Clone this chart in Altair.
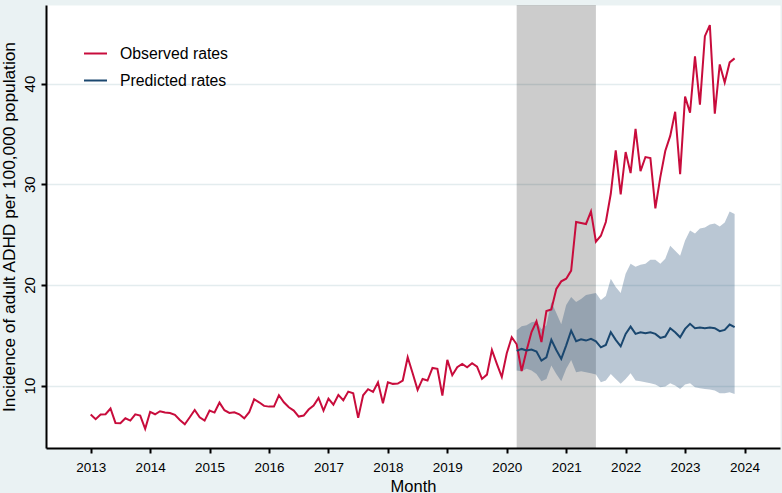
import altair as alt
import pandas as pd

# ---- data ----
obs_start_year = 2013
observed = [
    7.12, 6.66, 7.12, 7.15, 7.72, 6.29, 6.26, 6.75, 6.52, 7.15, 7.02, 5.70,
    7.38, 7.15, 7.45, 7.32, 7.28, 7.09, 6.59, 6.16, 6.85, 7.58, 6.85, 6.52,
    7.52, 7.32, 8.31, 7.55, 7.28, 7.35, 7.15, 6.75, 7.35, 8.64, 8.34, 7.98,
    7.91, 7.91, 9.04, 8.34, 7.85, 7.52, 6.92, 7.02, 7.62, 8.01, 8.77, 7.52,
    8.71, 8.11, 9.07, 8.54, 9.40, 9.24, 6.79, 9.04, 9.64, 9.37, 10.33, 8.24,
    10.33, 10.17, 10.20, 10.50, 12.81, 11.23, 9.57, 10.66, 10.50, 11.75, 11.66, 9.01,
    12.55, 11.03, 11.82, 12.15, 11.82, 12.22, 11.89, 10.66, 11.09, 13.54, 12.15, 10.85,
    13.21, 14.80, 14.10, 11.45, 13.48, 15.32, 16.39, 14.32, 17.40, 17.56, 19.60, 20.35,
    20.62, 21.42, 26.25, 26.15, 26.05, 27.30, 24.30, 24.88, 26.25, 29.05, 33.35, 29.00,
    33.20, 31.10, 35.50, 31.30, 32.70, 32.60, 27.60, 30.70, 33.30, 34.80, 37.20, 31.00,
    38.70, 37.10, 42.70, 37.90, 44.70, 45.80, 37.00, 41.90, 40.10, 42.10, 42.50,
]

pred_start = 2020 + 2 / 12  # March 2020
predicted = [
    13.45, 13.64, 13.48, 13.58, 13.38, 12.48, 12.81, 14.54, 13.54, 12.65,
    14.00, 15.46, 14.40, 14.60, 14.47, 14.64, 14.40, 13.80, 14.04, 15.30, 14.54, 13.90,
    15.13, 15.86, 15.13, 15.30, 15.20, 15.30, 15.13, 14.74, 14.87, 15.70, 15.30, 14.80,
    15.63, 16.13, 15.70, 15.76, 15.70, 15.76, 15.70, 15.40, 15.53, 16.06, 15.80,
]
ci_lower = [
    11.49, 11.42, 11.66, 11.49, 11.16, 10.43, 10.66, 11.99, 11.16, 10.43,
    11.66, 12.55, 11.32, 11.42, 11.32, 11.23, 11.09, 10.33, 10.50, 11.16, 10.66, 10.17,
    10.66, 11.23, 10.50, 10.43, 10.33, 10.23, 10.10, 9.83, 9.90, 10.23, 10.00, 9.67,
    10.10, 10.23, 9.83, 9.74, 9.67, 9.60, 9.50, 9.24, 9.24, 9.34, 9.17,
]
ci_upper = [
    15.50, 15.90, 16.00, 16.30, 16.40, 15.60, 16.00, 18.30, 17.20, 16.10,
    18.00, 18.80, 18.30, 18.60, 19.00, 19.10, 19.20, 18.50, 18.90, 20.60, 19.80, 19.20,
    21.10, 22.10, 21.80, 22.00, 22.10, 22.50, 22.50, 22.10, 22.60, 23.90, 23.40, 22.90,
    24.40, 25.40, 25.10, 25.60, 25.70, 26.00, 26.10, 25.80, 26.20, 27.30, 27.05,
]
band_start = [2020 + 2 / 12]   # March 2020
band_end = [2021 + 6 / 12]     # July 2021
x_ticks = list(range(2013, 2025))
y_ticks = [10, 20, 30, 40]
series_names = ["Observed rates", "Predicted rates"]

RED = "#C80C3C"
NAVY = "#1A476F"
FONT = "Liberation Sans"

obs_df = pd.DataFrame({
    "month": [obs_start_year + i / 12 for i in range(len(observed))],
    "value": observed,
    "series": series_names[0],
})
pred_df = pd.DataFrame({
    "month": [pred_start + i / 12 for i in range(len(predicted))],
    "value": predicted,
    "series": series_names[1],
})
lines_df = pd.concat([obs_df, pred_df], ignore_index=True)
ci_df = pd.DataFrame({
    "month": [pred_start + i / 12 for i in range(len(predicted))],
    "lo": ci_lower,
    "hi": ci_upper,
})
band_df = pd.DataFrame({"start": band_start, "end": band_end})

xscale = alt.Scale(domain=[2012.248, 2024.597], nice=False, zero=False)
yscale = alt.Scale(domain=[3.8, 47.8], nice=False, zero=False)

xaxis = alt.Axis(
    values=x_ticks, format="d", title="Month", grid=False,
    labelFontSize=13.5, labelPadding=7, titleFontSize=16.5,
    titleX=367, titleY=43, titleBaseline="alphabetic", titleAlign="center",
)
yaxis = alt.Axis(
    values=y_ticks, title="Incidence of adult ADHD per 100,000 population",
    grid=True, labelAngle=270, labelAlign="center", labelBaseline="bottom",
    labelFontSize=15, labelPadding=4, titleFontSize=17.3,
    titleAngle=270, titleX=-32, titleY=221.5, titleAlign="center",
    titleBaseline="alphabetic",
)

band = alt.Chart(band_df).mark_rect(color="black", opacity=0.2).encode(
    x=alt.X("start:Q", scale=xscale, axis=xaxis),
    x2="end:Q",
)

ci = alt.Chart(ci_df).mark_area(color=NAVY, opacity=0.3).encode(
    x=alt.X("month:Q", scale=xscale),
    y=alt.Y("lo:Q", scale=yscale, axis=yaxis),
    y2="hi:Q",
)

lines = alt.Chart(lines_df).mark_line(strokeWidth=2).encode(
    x=alt.X("month:Q", scale=xscale),
    y=alt.Y("value:Q", scale=yscale),
    color=alt.Color(
        "series:N",
        scale=alt.Scale(domain=series_names, range=[RED, NAVY]),
        legend=alt.Legend(
            title=None, orient="none", legendX=37, legendY=36,
            symbolType="stroke", symbolSize=529, symbolStrokeWidth=2,
            labelFontSize=15.8, labelOffset=12, rowPadding=6, padding=0,
            labelColor="black", labelFont=FONT,
        ),
    ),
    detail="series:N",
)

chart = alt.layer(band, ci, lines).properties(
    width=734, height=443,
    autosize=alt.AutoSizeParams(type="none"),
    padding={"left": 46, "top": 5, "right": 2, "bottom": 45},
    background="#EAF2F3",
).configure_view(
    fill="white", stroke="transparent",
).configure_axis(
    domainColor="black", domainWidth=2, tickColor="black", tickWidth=2,
    tickSize=5, labelColor="black", titleColor="black",
    labelFont=FONT, titleFont=FONT, titleFontWeight="normal",
    gridColor="#E3ECEE", gridWidth=1.5,
).configure_legend(
    labelFont=FONT,
)

chart.save("out.html", embed_options={"renderer": "svg", "actions": False})
